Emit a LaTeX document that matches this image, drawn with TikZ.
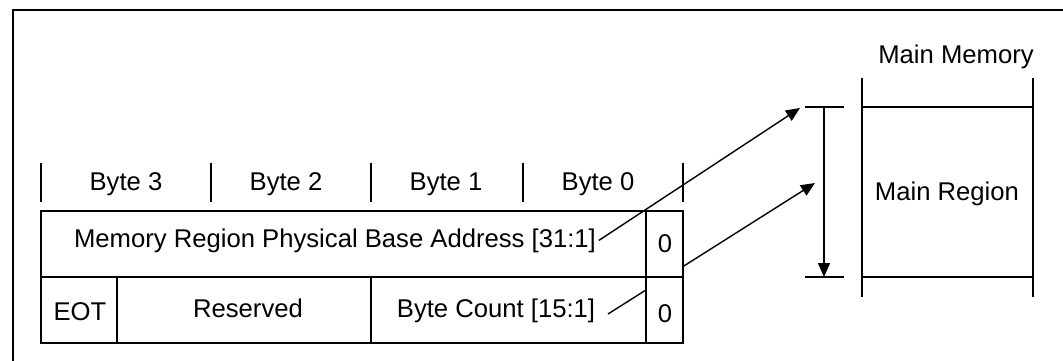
\documentclass[tikz,border=0pt]{standalone}
\usepackage{fontspec}
\setmainfont{Liberation Sans}
\usetikzlibrary{arrows.meta}

\begin{document}
\begin{tikzpicture}[x=0.02cm,y=-0.02cm,>={Triangle[length=2.8mm,width=2.4mm]}]
    \tikzstyle{txt}=[anchor=base,inner sep=1.5pt,text=black,font=\fontsize{14.6}{17.5}\selectfont]
    \tikzstyle{frame}=[line width=1.5pt]
    \tikzstyle{grid}=[line width=1.1pt]
    \tikzstyle{tick}=[line width=1pt]
    \tikzstyle{thin}=[line width=0.8pt]
    \tikzstyle{ptr}=[thin,->]

    \useasboundingbox (0,0) rectangle (1063,360);
    \draw[frame] (13,370) -- (13,10) -- (1070,10);

    % byte lanes
    \foreach \x in {41,211,371,523,683}
      \draw[tick] (\x,163) -- (\x,202);
    \node[txt] (b3) at (126,190) {Byte 3};
    \node[txt] (b2) at (286,190) {Byte 2};
    \node[txt] (b1) at (446,190) {Byte 1};
    \node[txt] (b0) at (598,190) {Byte 0};

    % pointer of the count word, passes behind the 0 column
    \coordinate (cntptr) at (608,314);
    \coordinate (tipB)   at (815,183);
    \draw[ptr] (cntptr) -- (tipB);

    % descriptor
    \draw[grid] (41,211) rectangle (646,343);
    \draw[grid] (41,277) -- (646,277);
    \draw[grid] (117,277) -- (117,343);
    \draw[grid] (371,277) -- (371,343);
    \draw[grid,fill=white] (646,211) rectangle (683,277);
    \draw[grid,fill=white] (646,277) rectangle (683,343);

    \node[txt] (addr)  at (335,247) {Memory Region Physical Base Address [31:1]};
    \node[txt] (zeroA) at (665,252) {0};
    \node[txt] (eot)   at (80,320)  {EOT};
    \node[txt] (rsvd)  at (248,317) {Reserved};
    \node[txt] (cnt)   at (496,317) {Byte Count [15:1]};
    \node[txt] (zeroB) at (665,322) {0};

    \coordinate (tipA) at (800,108);
    \draw[ptr] (addr.east) -- (tipA);

    % region size
    \coordinate (dimtop) at (824,107);
    \coordinate (dimbot) at (824,277);
    \draw[thin] (805,107) -- (844,107);
    \draw[thin] (805,277) -- (844,277);
    \draw[ptr] (dimtop) -- (dimbot);

    % main memory
    \draw[thin] (862,78) -- (862,297);
    \draw[thin] (1033,78) -- (1033,297);
    \draw[thin] (862,107) -- (1033,107);
    \draw[thin] (862,277) -- (1033,277);
    \node[txt] (mem) at (956,63)  {Main Memory};
    \node[txt] (reg) at (947,200) {Main Region};
\end{tikzpicture}
\end{document}
